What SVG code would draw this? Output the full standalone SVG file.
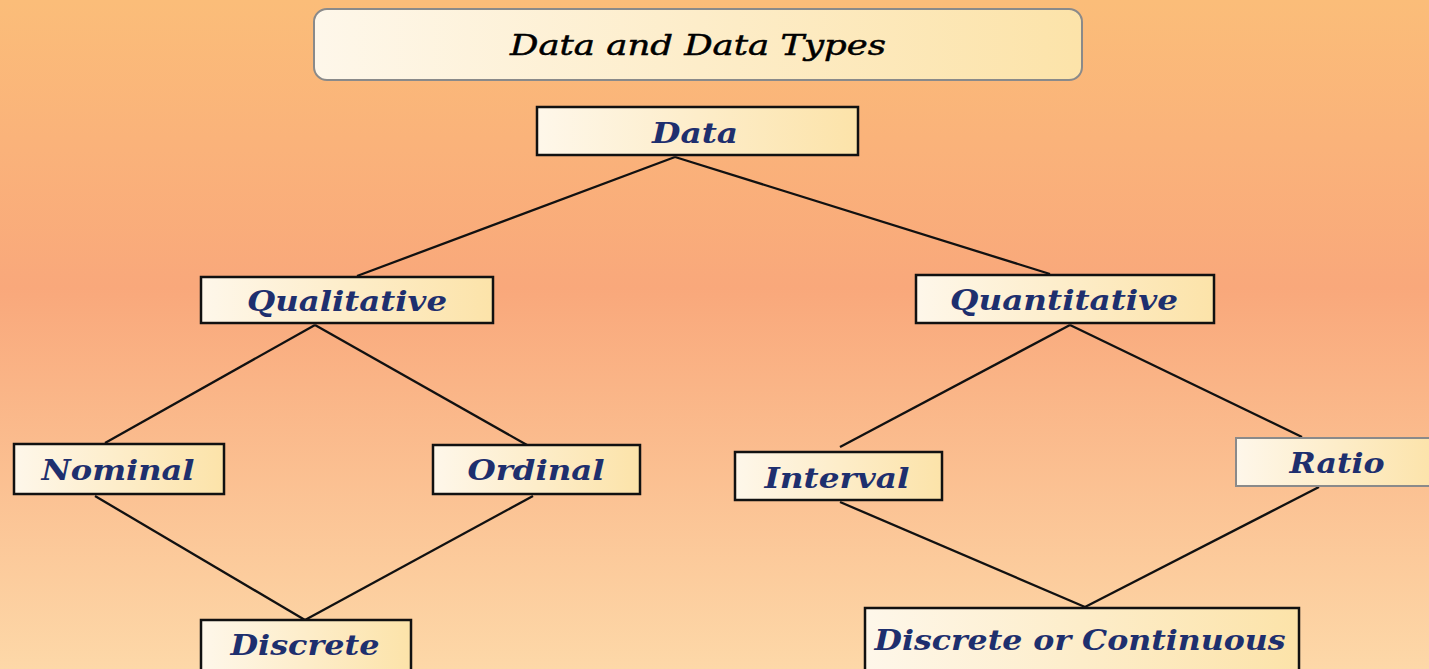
<svg xmlns="http://www.w3.org/2000/svg" width="1429" height="669" viewBox="0 0 1429 669">
  <defs>
    <linearGradient id="bg" x1="0" y1="0" x2="0" y2="1">
      <stop offset="0" stop-color="#FBBD79"/>
      <stop offset="0.43" stop-color="#F9A87B"/>
      <stop offset="1" stop-color="#FDD8A8"/>
    </linearGradient>
    <linearGradient id="box" x1="0" y1="0" x2="1" y2="0">
      <stop offset="0" stop-color="#FEF7EA"/>
      <stop offset="1" stop-color="#FCE3A9"/>
    </linearGradient>
    <style>
      .node rect { fill: url(#box); stroke: #111; stroke-width: 2.5; }
      .node rect.soft { stroke: #8a8a8a; stroke-width: 2; }
      .lbl { font-family: "DejaVu Serif", "Liberation Serif", serif; font-style: italic; font-weight: bold; font-size: 27px; fill: #1E2F6E; }
      .ttl { font-family: "DejaVu Serif", "Liberation Serif", serif; font-style: italic; font-weight: normal; font-size: 28px; fill: #000; stroke: #000; stroke-width: 0.5; }
      .links line { stroke: #111; stroke-width: 2.3; }
    </style>
  </defs>

  <rect width="1429" height="669" fill="url(#bg)"/>

  <g class="links">
    <line x1="675" y1="157" x2="357" y2="276"/>
    <line x1="675" y1="157" x2="1050" y2="274"/>
    <line x1="315" y1="325" x2="105" y2="443"/>
    <line x1="315" y1="325" x2="527" y2="445"/>
    <line x1="1070" y1="325" x2="840" y2="447"/>
    <line x1="1070" y1="325" x2="1302" y2="437"/>
    <line x1="95" y1="496" x2="305" y2="620"/>
    <line x1="533" y1="496" x2="305" y2="620"/>
    <line x1="840" y1="502" x2="1085" y2="607"/>
    <line x1="1319" y1="487" x2="1085" y2="607"/>
  </g>

  <g id="title" class="node">
    <rect class="soft" x="314" y="9" width="768" height="71" rx="13"/>
    <text class="ttl" x="698" y="55" text-anchor="middle" textLength="376" lengthAdjust="spacingAndGlyphs">Data and Data Types</text>
  </g>

  <g id="data" class="node">
    <rect x="537" y="107" width="321" height="48"/>
    <text class="lbl" x="695" y="143" text-anchor="middle" textLength="86" lengthAdjust="spacingAndGlyphs">Data</text>
  </g>

  <g id="qualitative" class="node">
    <rect x="201" y="277" width="292" height="46"/>
    <text class="lbl" x="347" y="311" text-anchor="middle" textLength="200" lengthAdjust="spacingAndGlyphs">Qualitative</text>
  </g>

  <g id="quantitative" class="node">
    <rect x="916" y="275" width="298" height="48"/>
    <text class="lbl" x="1064" y="310" text-anchor="middle" textLength="228" lengthAdjust="spacingAndGlyphs">Quantitative</text>
  </g>

  <g id="nominal" class="node">
    <rect x="14" y="444" width="210" height="50"/>
    <text class="lbl" x="118" y="480" text-anchor="middle" textLength="153" lengthAdjust="spacingAndGlyphs">Nominal</text>
  </g>

  <g id="ordinal" class="node">
    <rect x="433" y="445" width="207" height="49"/>
    <text class="lbl" x="536" y="480" text-anchor="middle" textLength="137" lengthAdjust="spacingAndGlyphs">Ordinal</text>
  </g>

  <g id="interval" class="node">
    <rect x="735" y="452" width="207" height="48"/>
    <text class="lbl" x="837" y="488" text-anchor="middle" textLength="145" lengthAdjust="spacingAndGlyphs">Interval</text>
  </g>

  <g id="ratio" class="node">
    <rect class="soft" x="1236" y="438" width="200" height="48"/>
    <text class="lbl" x="1337" y="473" text-anchor="middle" textLength="95" lengthAdjust="spacingAndGlyphs">Ratio</text>
  </g>

  <g id="discrete" class="node">
    <rect x="201" y="620" width="210" height="60"/>
    <text class="lbl" x="305" y="655" text-anchor="middle" textLength="149" lengthAdjust="spacingAndGlyphs">Discrete</text>
  </g>

  <g id="discrete-or-continuous" class="node">
    <rect x="865" y="608" width="434" height="72"/>
    <text class="lbl" x="1080" y="650" text-anchor="middle" textLength="411" lengthAdjust="spacingAndGlyphs">Discrete or Continuous</text>
  </g>
</svg>
